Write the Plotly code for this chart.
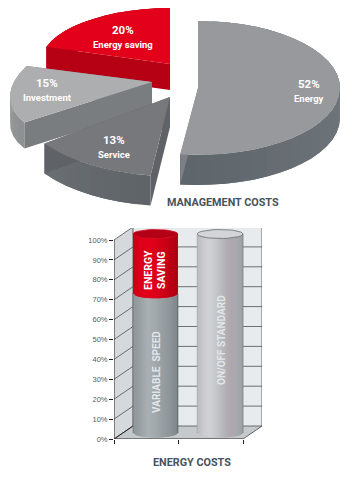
import math
import plotly.graph_objects as go

# ---- data ----
pie_labels = ["Energy", "Service", "Investment", "Energy saving"]
pie_values = [52, 13, 15, 20]
pie_title = "MANAGEMENT COSTS"

bar_categories = ["VARIABLE  SPEED", "ON/OFF STANDARD"]
bar_values = [70, 100]
bar_saving_label = ["ENERGY", "SAVING"]
bar_saving_values = [30, 0]
bar_title = "ENERGY COSTS"
y_ticks = [0, 10, 20, 30, 40, 50, 60, 70, 80, 90, 100]

# ---- style / projection ----
W, H = 360, 477
NARROW = "Roboto, Liberation Sans, Arial"
TOP_H = 215

slices = {
    "Energy": dict(c=(198, 88), rx=142, ry=67, d=30, turn=0, k=0.0, top="#97999c",
                   rim=("#80868b", "#5f666b"), cut="#7c8084"),
    "Service": dict(c=(170, 97), rx=155, ry=79, d=30, turn=0, k=0.0, top="#76787b",
                    rim=("#5f6468", "#6a6e72"), cut="#5f6367"),
    "Investment": dict(c=(152, 82), rx=142, ry=62, d=26, turn=10, k=-0.105, top="#adaeb0",
                       rim=("#8f9092", "#a3a4a6"), cut="#7a7d80"),
    "Energy saving": dict(c=(170, 64), rx=130, ry=56, d=26, turn=0, k=0.0, top="#e2001a",
                          rim=("#b80013", "#b80013"), cut="#b60014"),
}
draw_order = ["Energy saving", "Investment", "Service", "Energy"]
pie_text = {
    "Energy": (309, 91), "Service": (114, 147), "Investment": (47, 90), "Energy saving": (123, 37),
}


def mix(a, b, t):
    a = [int(a[i:i + 2], 16) for i in (1, 3, 5)]
    b = [int(b[i:i + 2], 16) for i in (1, 3, 5)]
    return "#%02x%02x%02x" % tuple(round(p + (q - p) * t) for p, q in zip(a, b))


def ramp(stops, t):
    n = len(stops) - 1
    i = min(int(t * n), n - 1)
    return mix(stops[i], stops[i + 1], t * n - i)


fig = go.Figure()


def poly(xs, ys, color, ax=1, line=None, lw=0.0):
    axis = {} if ax == 1 else dict(xaxis="x2", yaxis="y2")
    fig.add_trace(go.Scatter(x=xs, y=ys, mode="lines", fill="toself", fillcolor=color,
                             line=dict(color=line or color, width=lw), hoverinfo="skip",
                             showlegend=False, **axis))


def rim_point(s, deg):
    a = math.radians(deg + s["turn"])
    dx, dy = s["rx"] * math.sin(a), -s["ry"] * math.cos(a)
    return s["c"][0] + dx, s["c"][1] + dy + s["k"] * dx


# slice sweep comes from the shares
total = sum(pie_values)
start = 0.0
sweeps = {}
for lab, val in zip(pie_labels, pie_values):
    sweeps[lab] = (start, start + val / total * 360)
    start += val / total * 360

for lab in draw_order:
    s = slices[lab]
    a0, a1 = sweeps[lab]
    n = max(8, int((a1 - a0) / 6))
    angs = [a0 + (a1 - a0) * i / n for i in range(n + 1)]
    pts = [rim_point(s, a) for a in angs]
    d = s["d"]
    # outer wall: strips overlap the next one so no seams show
    for i in range(n):
        chunk = pts[i:i + 3]
        xs = [p[0] for p in chunk] + [p[0] for p in reversed(chunk)] + [chunk[0][0]]
        ys = [p[1] for p in chunk] + [p[1] + d for p in reversed(chunk)] + [chunk[0][1]]
        poly(xs, ys, mix(*s["rim"], i / (n - 1)))
    # cut faces
    cx, cy = s["c"]
    for (px, py) in (pts[0], pts[-1]):
        poly([cx, px, px, cx, cx], [cy, py, py + d, cy + d, cy], s["cut"])
    # top
    poly([cx] + [p[0] for p in pts] + [cx], [cy] + [p[1] for p in pts] + [cy], s["top"])

# ---- cylinder chart, on real axes ----
PX_X = 64.5          # pixels per category
PX_Y = 1.99          # pixels per percent
AX_L, AX_B = 114, 439
WALL_R, WALL_T = 262, 228
DX, DY = 19 / PX_X, 13 / PX_Y
XMAX = (WALL_R - AX_L) / PX_X
YMAX = (AX_B - WALL_T) / PX_Y
CAT_N = len(bar_categories)

poly([0, DX, DX, 0, 0], [0, DY, 100 + DY, 100, 0], "#d6d9db", 2)
poly([DX, XMAX, XMAX, DX, DX], [DY, DY, 100 + DY, 100 + DY, DY], "#e8ebed", 2)
poly([0, DX, XMAX, CAT_N, 0], [0, DY, DY, 0, 0], "#c6c9cb", 2)


def seg(xs, ys, color="#3c4246", width=0.8):
    fig.add_trace(go.Scatter(x=xs, y=ys, mode="lines", line=dict(color=color, width=width),
                             hoverinfo="skip", showlegend=False, xaxis="x2", yaxis="y2",
                             cliponaxis=False))


for t in y_ticks:
    seg([0, DX, XMAX], [t, t + DY, t + DY], "#4a5054", 0.8)
seg([DX, DX], [DY, 100 + DY])
seg([XMAX, XMAX], [DY, 100 + DY])
seg([XMAX, CAT_N], [DY, 0])
seg([0, DX], [0, DY], "#222", 1)
seg([0, 0], [0, 100], "#222", 1)
seg([0, CAT_N], [0, 0], "#222", 1)

E = 4.5 / PX_Y
BASE = 3
cyl_x = [(0.295, 0.99), (1.29, 2.0)]
GREY = ["#8d969a", "#9aa2a6", "#a9afb3", "#a2a9ad", "#969ea2", "#8d9599", "#7d868a"]
SILVER = ["#b9bcc1", "#c9cbcf", "#cfd1d4", "#c3c5c9", "#b4b6bb", "#b0a8ae", "#a6a9ae", "#9ea1a6"]
RED = ["#c70019", "#dc0019", "#e30019", "#dd0019", "#cf0017", "#bd0014", "#ad0012"]
STRIPS = 22


def cyl_seg(x0, x1, v0, v1, stops):
    for i in range(STRIPS):
        a, b = x0 + (x1 - x0) * i / STRIPS, x0 + (x1 - x0) * min(i + 2, STRIPS) / STRIPS
        ua, ub = 2 * i / STRIPS - 1, 2 * min(i + 2, STRIPS) / STRIPS - 1
        ea, eb = E * math.sqrt(max(0, 1 - ua ** 2)), E * math.sqrt(max(0, 1 - ub ** 2))
        poly([a, b, b, a, a],
             [BASE + v0 - ea, BASE + v0 - eb, BASE + v1 - eb, BASE + v1 - ea, BASE + v0 - ea],
             ramp(stops, (i + .5) / STRIPS), 2)


def ellipse(x0, x1, v, color, line):
    n = 40
    xs, ys = [], []
    for i in range(n + 1):
        a = 2 * math.pi * i / n
        xs.append((x0 + x1) / 2 + (x1 - x0) / 2 * math.cos(a))
        ys.append(BASE + v + E * math.sin(a))
    poly(xs, ys, color, 2, line, 0.8)


x0, x1 = cyl_x[0]
cyl_seg(x0, x1, 0, bar_values[0], GREY)
cyl_seg(x0, x1, bar_values[0], bar_values[0] + bar_saving_values[0], RED)
ellipse(x0, x1, bar_values[0] + bar_saving_values[0], "#b30016", "#d4001a")
seg([x0, x0], [BASE, BASE + bar_values[0]], "#6a7276", 0.7)
seg([x1, x1], [BASE, BASE + bar_values[0]], "#4e5559", 0.7)
x0, x1 = cyl_x[1]
cyl_seg(x0, x1, 0, bar_values[1], SILVER)
ellipse(x0, x1, bar_values[1], "#d3d5d9", "#63686c")
seg([x0, x0], [BASE, BASE + bar_values[1]], "#a0a3a8", 0.7)
seg([x1, x1], [BASE, BASE + bar_values[1]], "#6e7276", 0.7)

# ---- texts ----
ann = []


def text(x, y, t, size, color="#ffffff", ref=1, rot=0, bold=True):
    ann.append(dict(x=x, y=y, text=f"<b>{t}</b>" if bold else t, showarrow=False,
                    xref="x" if ref == 1 else "x2", yref="y" if ref == 1 else "y2",
                    textangle=rot, font=dict(family=NARROW, size=size, color=color),
                    xanchor="center", yanchor="middle"))


def title(px, py, t):
    ann.append(dict(x=px / W, y=1 - py / H, text=f"<b>{t}</b>", showarrow=False, xref="paper", yref="paper",
                    font=dict(family=NARROW, size=10.8, color="#46525c"),
                    xanchor="center", yanchor="middle"))


for lab, val in zip(pie_labels, pie_values):
    px, py = pie_text[lab]
    text(px, py - 7, f"{val}%", 11.5)
    text(px, py + 7, lab, 9.5)
title(223, 202, pie_title)
title(192, 462, bar_title)


def ux(p):
    return (p - AX_L) / PX_X


def uy(p):
    return (AX_B - p) / PX_Y


text(ux(148), uy(270), bar_saving_label[0], 10.5, "#ffffff", 2, -90)
text(ux(161), uy(270), bar_saving_label[1], 10.5, "#ffffff", 2, -90)
text(ux(156), uy(372), bar_categories[0], 10, "#e4e7e9", 2, -90)
text(ux(221), uy(340), bar_categories[1], 10, "#e4e7e9", 2, -90)

fig.update_layout(
    width=W, height=H, margin=dict(l=0, r=0, t=0, b=0), autosize=False,
    paper_bgcolor="#ffffff", plot_bgcolor="rgba(0,0,0,0)", showlegend=False,
    annotations=ann,
    xaxis=dict(domain=[0, 1], range=[0, W], visible=False, fixedrange=True, automargin=False),
    yaxis=dict(domain=[1 - TOP_H / H, 1], range=[TOP_H, 0], visible=False, fixedrange=True, automargin=False),
    xaxis2=dict(domain=[AX_L / W, WALL_R / W], range=[0, XMAX], anchor="y2", tickmode="array", automargin=False,
                tickvals=list(range(CAT_N + 1)), ticktext=[""] * (CAT_N + 1), ticks="outside", ticklen=4,
                tickcolor="#222", tickwidth=1, showgrid=False, zeroline=False, showline=False, fixedrange=True),
    yaxis2=dict(domain=[1 - AX_B / H, 1 - WALL_T / H], range=[0, YMAX], anchor="x2", tickmode="array", automargin=False,
                tickvals=y_ticks, ticktext=[f"{t}%" for t in y_ticks], ticks="outside", ticklen=4,
                tickcolor="#222", tickwidth=1, showgrid=False, zeroline=False, showline=False, fixedrange=True,
                tickfont=dict(family="Liberation Sans, Arial", size=7.5, color="#555c60")),
)

fig.write_html("out.html", config=dict(displayModeBar=False),
               post_script="document.body.style.margin='0';")
